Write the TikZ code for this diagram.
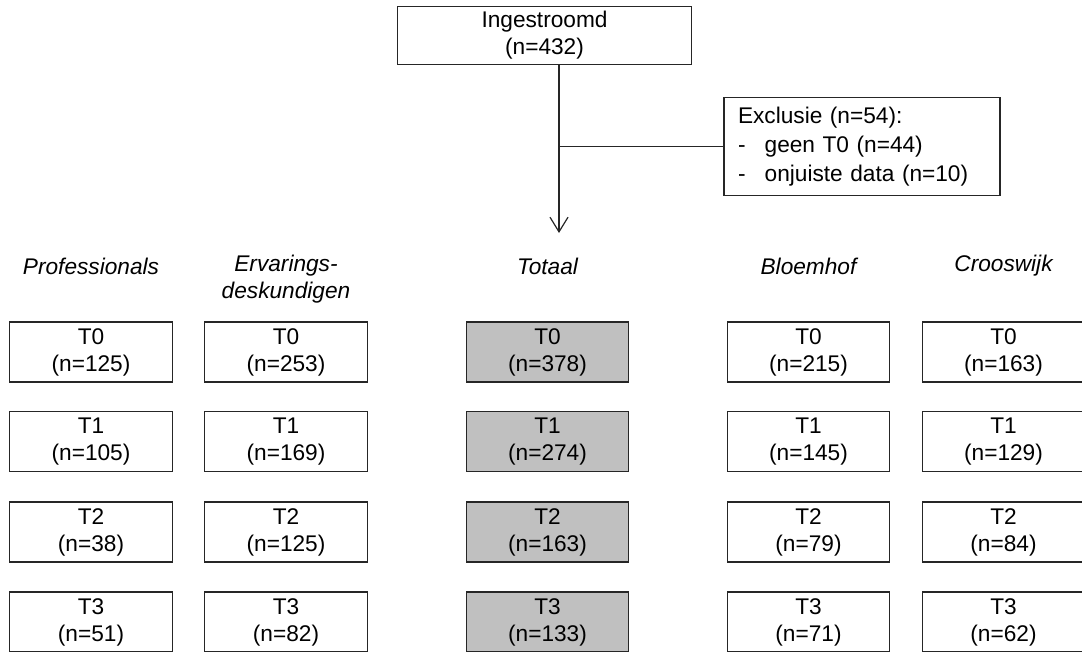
\documentclass[tikz,border=0pt]{standalone}
\usepackage{fontspec}
\setmainfont{Liberation Sans}
\usetikzlibrary{arrows.meta}
\definecolor{totaalgrey}{RGB}{192,192,192}
\tikzset{
  box/.style={draw=black!85, line width=0.9pt, minimum width=122pt, minimum height=45pt,
    inner sep=0pt, align=center, font=\fontsize{17}{20.25}\selectfont},
  greybox/.style={box, fill=totaalgrey},
  header/.style={align=center, font=\fontsize{17}{20.25}\selectfont\itshape},
  flow/.style={line width=0.9pt, draw=black!85},
}

\begin{document}
\begin{tikzpicture}[x=0.75pt,y=0.75pt,yscale=-1.0,xscale=1.0]
\path[use as bounding box, clip] (0,0) rectangle (1082,651);

% top part
\node [box, minimum width=221pt, minimum height=44pt] (ingestroomd) at (544.5,35.5) {Ingestroomd\\(n=432)};
\node [box, minimum width=207pt, minimum height=74pt, align=left, text width=186pt,
  font=\fontsize{17}{21.75}\selectfont] (exclusie) at (862,146.5)
  {Exclusie (n=54):\\\makebox[20pt][l]{-}geen T0 (n=44)\\\makebox[20pt][l]{-}onjuiste data (n=10)};
\coordinate (tip) at (559,233);
\draw [flow, -{Straight Barb[length=11pt,width=13.5pt]}] (ingestroomd.south -| tip) -- (tip);
\draw [flow] (tip |- exclusie.west) -- (exclusie.west);

% column headers
\node [header] (hprof) at (91,266) {Professionals};
\node [header] (herv) at (286,279.5) {Ervarings-\\deskundigen};
\node [header] (htot) at (547.5,266) {Totaal};
\node [header] (hbloem) at (808.5,266) {Bloemhof};
\node [header] (hcroos) at (1003.5,266) {Crooswijk};

% Professionals
\node [box] (prof0) at (91,352) {T0\\(n=125)};
\node [box] (prof1) at (91,441.5) {T1\\(n=105)};
\node [box] (prof2) at (91,532) {T2\\(n=38)};
\node [box] (prof3) at (91,622) {T3\\(n=51)};

% Ervaringsdeskundigen
\node [box] (erv0) at (286,352) {T0\\(n=253)};
\node [box] (erv1) at (286,441.5) {T1\\(n=169)};
\node [box] (erv2) at (286,532) {T2\\(n=125)};
\node [box] (erv3) at (286,622) {T3\\(n=82)};

% Totaal
\node [greybox] (tot0) at (547.5,352) {T0\\(n=378)};
\node [greybox] (tot1) at (547.5,441.5) {T1\\(n=274)};
\node [greybox] (tot2) at (547.5,532) {T2\\(n=163)};
\node [greybox] (tot3) at (547.5,622) {T3\\(n=133)};

% Bloemhof
\node [box] (bloem0) at (808.5,352) {T0\\(n=215)};
\node [box] (bloem1) at (808.5,441.5) {T1\\(n=145)};
\node [box] (bloem2) at (808.5,532) {T2\\(n=79)};
\node [box] (bloem3) at (808.5,622) {T3\\(n=71)};

% Crooswijk
\node [box] (croos0) at (1003.5,352) {T0\\(n=163)};
\node [box] (croos1) at (1003.5,441.5) {T1\\(n=129)};
\node [box] (croos2) at (1003.5,532) {T2\\(n=84)};
\node [box] (croos3) at (1003.5,622) {T3\\(n=62)};
\end{tikzpicture}
\end{document}
